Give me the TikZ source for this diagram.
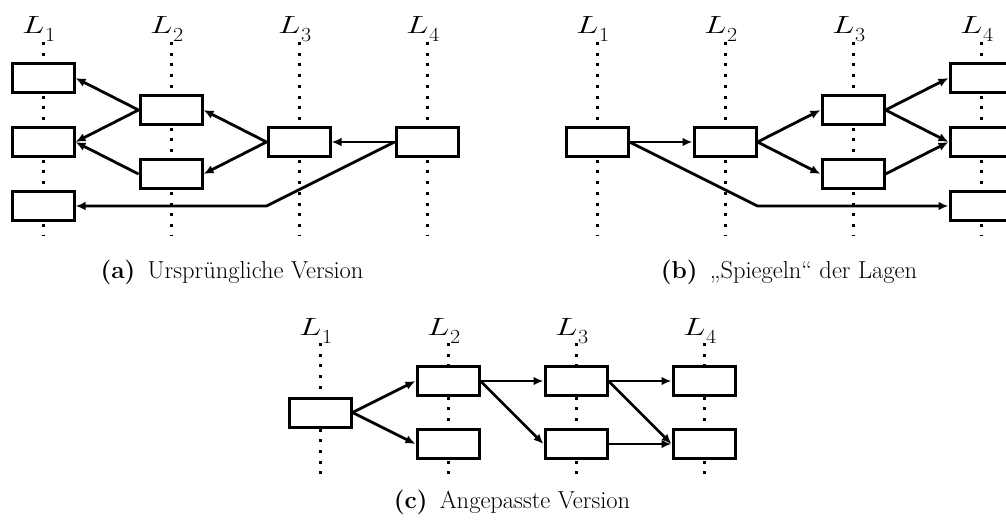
\documentclass[tikz,border=0pt]{standalone}
\usepackage{fontspec}
\usepackage{graphicx}
\usetikzlibrary{arrows.meta}
\newcommand{\layerlabel}[1]{\scalebox{1.35}[1]{\fontsize{24}{28}\selectfont$L$}\kern0.5pt\raisebox{-8pt}{\scalebox{1.1}[1]{\fontsize{20}{24}\selectfont #1}}}
\newcommand{\captiontext}[2]{\textbf{(#1)}\enspace #2}
\begin{document}
\begin{tikzpicture}[x=1pt,y=-1pt,
  box/.style={draw,line width=3pt,fill=white,minimum width=62pt,minimum height=29pt,inner sep=0pt},
  layer/.style={line width=3pt,dash pattern=on 3pt off 7.7pt},
  lab/.style={anchor=base west,inner sep=0pt},
  captext/.style={anchor=base,inner sep=0pt,font=\fontsize{24.5}{28}\selectfont},
  edge/.style={line width=2.8pt,-{Latex[length=10pt,width=8.5pt]}}]
\useasboundingbox (0,0) rectangle (1006,520);

% ---------- (a) ----------
\foreach \x/\i in {43/1,171/2,299/3,427/4}{
  \draw[layer] (\x,42) -- (\x,236);
  \node[lab] (a-l\i) at (\x-21,33) {\layerlabel{\i}};
}
\node[box] (a11) at (43,78) {};
\node[box] (a12) at (43,142) {};
\node[box] (a13) at (43,206) {};
\node[box] (a21) at (171,110) {};
\node[box] (a22) at (171,174) {};
\node[box] (a31) at (299,142) {};
\node[box] (a41) at (427,142) {};
\coordinate (abend) at (266.5,206);
\draw[edge] (a41.west) -- (a31.east);
\draw[edge] (a41.west) -- (abend) -- (a13.east);
\draw[edge] (a31.west) -- (a21.east);
\draw[edge] (a31.west) -- (a22.east);
\draw[edge] (a21.west) -- (a11.east);
\draw[edge] (a21.west) -- (a12.east);
\draw[edge] (a22.west) -- (a12.east);
\node[captext] (capa) at (232,278) {\captiontext{a}{Ursprüngliche Version}};

% ---------- (b) ----------
\foreach \x/\i in {597/1,725/2,853/3,981/4}{
  \draw[layer] (\x,42) -- (\x,236);
  \node[lab] (b-l\i) at (\x-21,33) {\layerlabel{\i}};
}
\node[box] (b11) at (597,142) {};
\node[box] (b21) at (725,142) {};
\node[box] (b31) at (853,110) {};
\node[box] (b32) at (853,174) {};
\node[box] (b41) at (981,78) {};
\node[box] (b42) at (981,142) {};
\node[box] (b43) at (981,206) {};
\coordinate (bbend) at (757.5,206);
\draw[edge] (b11.east) -- (b21.west);
\draw[edge] (b11.east) -- (bbend) -- (b43.west);
\draw[edge] (b21.east) -- (b31.west);
\draw[edge] (b21.east) -- (b32.west);
\draw[edge] (b31.east) -- (b41.west);
\draw[edge] (b31.east) -- (b42.west);
\draw[edge] (b32.east) -- (b42.west);
\node[captext] (capb) at (789,278) {\captiontext{b}{„Spiegeln“ der Lagen}};

% ---------- (c) ----------
\foreach \x/\i in {320/1,448/2,576/3,704/4}{
  \draw[layer] (\x,343) -- (\x,474);
  \node[lab] (c-l\i) at (\x-21,335) {\layerlabel{\i}};
}
\node[box] (c11) at (320,412.5) {};
\node[box] (c21) at (448,381) {};
\node[box] (c22) at (448,444) {};
\node[box] (c31) at (576,381) {};
\node[box] (c32) at (576,444) {};
\node[box] (c41) at (704,381) {};
\node[box] (c42) at (704,444) {};
\draw[edge] (c11.east) -- (c21.west);
\draw[edge] (c11.east) -- (c22.west);
\draw[edge] (c21.east) -- (c31.west);
\draw[edge] (c21.east) -- (c32.west);
\draw[edge] (c31.east) -- (c41.west);
\draw[edge] (c31.east) -- (c42.west);
\draw[edge] (c32.east) -- (c42.west);
\node[captext] (capc) at (512,508) {\captiontext{c}{Angepasste Version}};
\end{tikzpicture}
\end{document}
